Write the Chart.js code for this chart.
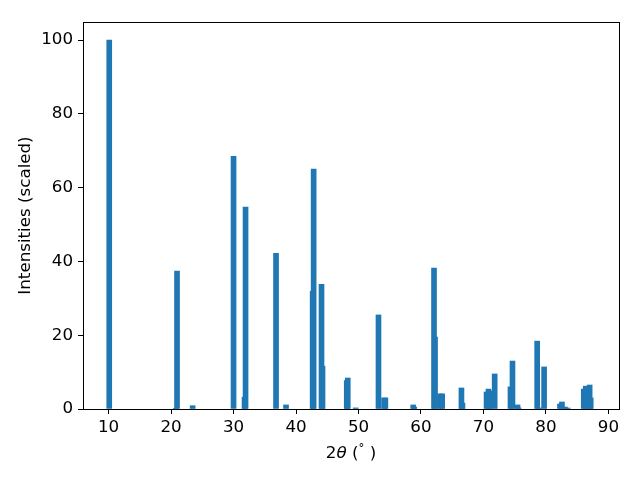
<!DOCTYPE html>
<html>
<head>
<meta charset="utf-8">
<script src="https://cdn.jsdelivr.net/npm/chart.js@4"></script>
<style>
  html, body { margin: 0; padding: 0; background: #fff; }
  #grafico { display: block; }
</style>
</head>
<body>
<canvas id="grafico" width="640" height="480"></canvas>
<script>
// posições dos picos (2θ) e intensidades
const doisTheta = [10.1, 20.75, 20.95, 23.45, 30.0, 31.76, 31.92, 36.8, 38.4, 42.66, 42.82, 44.08, 44.24,
  48.12, 48.28, 49.55, 53.2, 54.1, 54.3, 58.76, 58.92, 62.09, 62.25, 63.05, 63.4, 66.48, 66.64,
  70.5, 70.8, 70.99, 71.8, 74.33, 74.65, 75.46, 75.62, 78.6, 78.9, 79.71, 82.25, 82.57, 83.04, 83.47,
  86.06, 86.38, 87.0, 87.17];
const intensidades = [100, 0.2, 37.4, 0.9, 68.5, 3.2, 54.7, 42.2, 1.1, 31.9, 65.0, 33.8, 11.6,
  7.7, 8.4, 0.3, 25.5, 3.0, 3.0, 1.1, 0.5, 38.2, 19.5, 4.1, 4.1, 5.7, 1.6,
  4.6, 5.4, 4.9, 9.5, 6.0, 13.0, 1.1, 0.3, 18.4, 0.3, 11.4, 1.35, 1.9, 0.54, 0.27,
  5.4, 6.2, 6.5, 3.0];
const ticksX = [10, 20, 30, 40, 50, 60, 70, 80, 90];
const ticksY = [0, 20, 40, 60, 80, 100];

const familia = 'DejaVu Sans';
const fonte = { family: familia, size: 16.7 };

// moldura completa + título do eixo x com θ em itálico e ° sobrescrito
const moldura = {
  id: 'moldura',
  afterDraw(chart) {
    const { ctx, chartArea: a } = chart;
    ctx.save();
    ctx.strokeStyle = '#000';
    ctx.lineWidth = 1;
    ctx.strokeRect(Math.round(a.left) + 0.5, Math.round(a.top) + 0.5, Math.round(a.right - a.left), Math.round(a.bottom - a.top));

    const partes = [
      { t: '2', f: `16.7px "${familia}"`, dy: 0 },
      { t: 'θ', f: `oblique 16.7px "${familia}"`, dy: 0 },
      { t: ' (', f: `16.7px "${familia}"`, dy: 0 },
      { t: '°', f: `11.7px "${familia}"`, dy: -6 },
      { t: ' )', f: `16.7px "${familia}"`, dy: 0 }
    ];
    let total = 0;
    partes.forEach(p => { ctx.font = p.f; p.w = ctx.measureText(p.t).width; total += p.w; });
    let x = (a.left + a.right) / 2 - total / 2;
    const base = 458;
    ctx.fillStyle = '#000';
    ctx.textBaseline = 'alphabetic';
    ctx.textAlign = 'left';
    partes.forEach(p => { ctx.font = p.f; ctx.fillText(p.t, x, base + p.dy); x += p.w; });
    ctx.restore();
  }
};

function criarGrafico(id) {
  const pontos = doisTheta.map((x, i) => ({ x, y: intensidades[i] }));
  new Chart(document.getElementById(id), {
    type: 'bar',
    data: {
      datasets: [{ data: pontos, backgroundColor: '#1f77b4', borderWidth: 0, barThickness: 5 }]
    },
    options: {
      responsive: false,
      animation: false,
      layout: { padding: { top: 22, right: 21, left: 0, bottom: 0 } },
      plugins: { legend: { display: false }, tooltip: { enabled: false } },
      scales: {
        x: {
          type: 'linear', min: 5.9, max: 91.7, offset: false,
          afterBuildTicks: s => { s.ticks = ticksX.map(v => ({ value: v })); },
          afterFit: s => { s.height = 71; },
          grid: { drawOnChartArea: false, offset: false, tickLength: 5, tickColor: '#000' },
          border: { color: '#000' },
          ticks: { autoSkip: false, maxRotation: 0, padding: 4, color: '#000', font: fonte },
          title: { display: false }
        },
        y: {
          min: 0, max: 104.9,
          afterBuildTicks: s => { s.ticks = ticksY.map(v => ({ value: v })); },
          afterFit: s => { s.width = 83; },
          grid: { drawOnChartArea: false, tickLength: 5, tickColor: '#000' },
          border: { color: '#000' },
          ticks: { padding: 5, color: '#000', font: fonte },
          title: { display: true, text: 'Intensities (scaled)', color: '#000', font: fonte, padding: { top: 16, bottom: 0 } }
        }
      }
    },
    plugins: [moldura]
  });
}

criarGrafico('grafico');
</script>
</body>
</html>
